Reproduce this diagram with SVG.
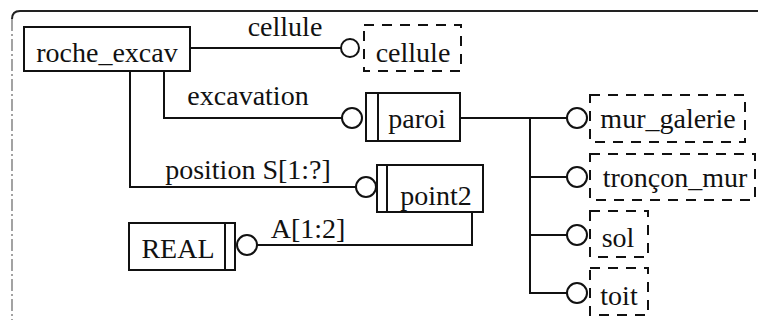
<svg xmlns="http://www.w3.org/2000/svg" width="758" height="324" viewBox="0 0 758 324">
<style>
  text { font-family: "Liberation Serif", "Times New Roman", serif; font-size: 28px; fill: #111; }
  .mid { text-anchor: middle; }
  .box { fill: #fff; stroke: #111; stroke-width: 2; }
  .dbox { fill: #fff; stroke: #111; stroke-width: 2; stroke-dasharray: 10 8; }
  .bar { stroke: #111; stroke-width: 2; fill: none; }
  .ln { fill: none; stroke: #111; stroke-width: 2; }
  .ring { fill: #fff; stroke: #111; stroke-width: 2; }
  .frame { fill: none; stroke: #222; stroke-width: 2; }
  .frameL { fill: none; stroke: #666; stroke-width: 1.2; stroke-dasharray: 12 3 2 3; }
</style>
<rect width="758" height="324" fill="#fff"/>
<g id="frame">
  <path class="frame" d="M758 11 H20 Q12 11 12 19"/>
  <path class="frameL" d="M12 19 V320"/>
</g>
<g id="connectors">
  <path class="ln" d="M190 48 H341"/>
  <path class="ln" d="M164 71 V118 H342"/>
  <path class="ln" d="M130 71 V187 H356"/>
  <path class="ln" d="M472 212 V245 H257"/>
  <path class="ln" d="M460 118 H567"/>
  <path class="ln" d="M530 118 V293 H567"/>
  <path class="ln" d="M530 177 H567"/>
  <path class="ln" d="M530 235 H567"/>
  <circle class="ring" cx="350" cy="48" r="9"/>
  <circle class="ring" cx="352" cy="118" r="10"/>
  <circle class="ring" cx="366" cy="187" r="10"/>
  <circle class="ring" cx="247" cy="245" r="10"/>
  <circle class="ring" cx="577" cy="118" r="10"/>
  <circle class="ring" cx="577" cy="177" r="10"/>
  <circle class="ring" cx="577" cy="235" r="10"/>
  <circle class="ring" cx="577" cy="293" r="10"/>
  <text x="285" y="36" class="mid">cellule</text>
  <text x="248" y="105" class="mid">excavation</text>
  <text x="248" y="179" class="mid">position S[1:?]</text>
  <text x="308" y="238" class="mid">A[1:2]</text>
</g>
<g id="roche_excav">
  <rect class="box" x="24" y="27" width="166" height="44"/>
  <text x="107" y="62" class="mid">roche_excav</text>
</g>
<g id="cellule">
  <rect class="dbox" x="364" y="25" width="97" height="46"/>
  <text x="413" y="62" class="mid">cellule</text>
</g>
<g id="paroi">
  <rect class="box" x="366" y="93" width="94" height="48"/>
  <line class="bar" x1="378" y1="93" x2="378" y2="141"/>
  <text x="417" y="128" class="mid">paroi</text>
</g>
<g id="point2">
  <rect class="box" x="377" y="165" width="106" height="47"/>
  <line class="bar" x1="387" y1="165" x2="387" y2="212"/>
  <text x="436" y="205" class="mid">point2</text>
</g>
<g id="REAL">
  <rect class="box" x="129" y="223" width="106" height="47"/>
  <line class="bar" x1="225" y1="223" x2="225" y2="270"/>
  <text x="178" y="258" class="mid">REAL</text>
</g>
<g id="mur_galerie">
  <rect class="dbox" x="590" y="95" width="155" height="47"/>
  <text x="668" y="128" class="mid">mur_galerie</text>
</g>
<g id="troncon_mur">
  <rect class="dbox" x="590" y="154" width="165" height="46"/>
  <text x="675" y="187" class="mid">tronçon_mur</text>
</g>
<g id="sol">
  <rect class="dbox" x="590" y="211" width="58" height="46"/>
  <text x="618" y="247" class="mid">sol</text>
</g>
<g id="toit">
  <rect class="dbox" x="590" y="268" width="58" height="47"/>
  <text x="619" y="305" class="mid">toit</text>
</g>
</svg>
